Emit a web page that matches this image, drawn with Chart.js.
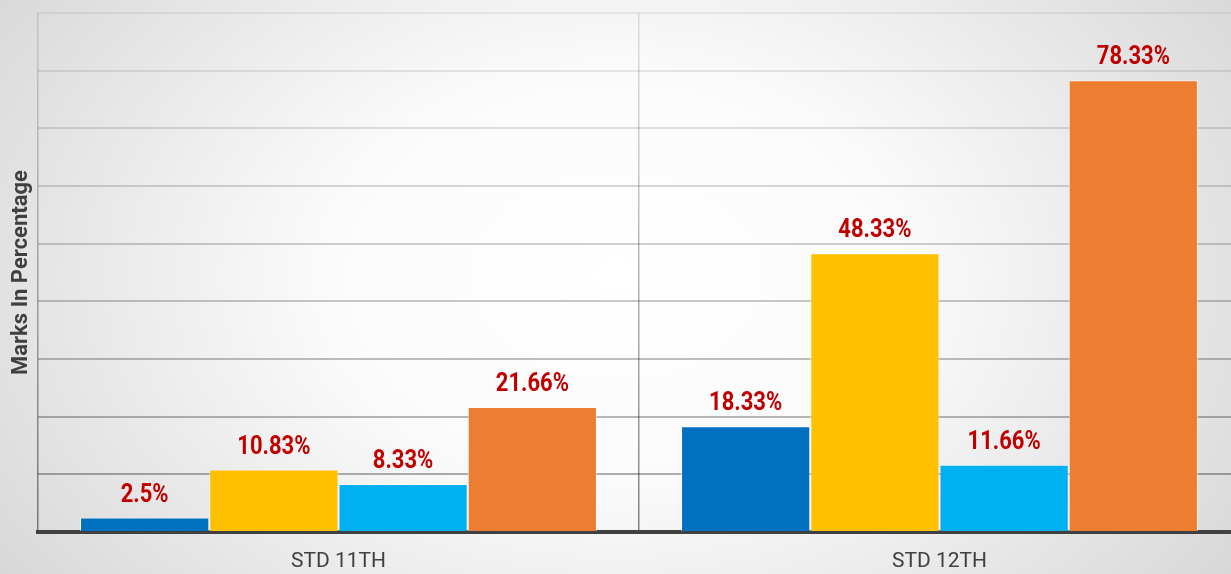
<!DOCTYPE html>
<html>
<head>
<meta charset="utf-8">
<script src="https://cdn.jsdelivr.net/npm/chart.js@4"></script>
<style>
  html, body { margin: 0; padding: 0; overflow: hidden; }
  body {
    width: 1231px; height: 574px;
    background: radial-gradient(ellipse 72% 110% at 50% 48%, #ffffff 0%, #fbfbfb 32%, #cdcdcd 100%);
  }
  #wrap { width: 1240px; height: 574px; }
</style>
</head>
<body>
<div id="wrap"><canvas id="myChart" width="1240" height="574"></canvas></div>
<script>
const categories = ['STD 11TH', 'STD 12TH'];
const series1 = [2.5, 18.33];
const series2 = [10.83, 48.33];
const series3 = [8.33, 11.66];
const series4 = [21.66, 78.33];
const seriesNames = ['Series 1', 'Series 2', 'Series 3', 'Series 4'];
const colors = ['#0070C0', '#FFC000', '#00B0F0', '#ED7D31'];

// value labels above each bar (slightly condensed Roboto)
const valueLabels = {
    id: 'valueLabels',
    afterDatasetsDraw(chart) {
        const c = chart.ctx;
        chart.data.datasets.forEach((ds, i) => {
            chart.getDatasetMeta(i).data.forEach((bar, j) => {
                c.save();
                c.translate(bar.x, bar.y - 16);
                c.scale(0.88, 1);
                c.font = 'bold 25px Roboto, sans-serif';
                c.fillStyle = '#C00000';
                c.textAlign = 'center';
                c.textBaseline = 'alphabetic';
                c.fillText(ds.data[j] + '%', 0, 0);
                c.restore();
            });
        });
    }
};

function xGridColor(context) {
    const chart = context.chart;
    const area = chart.chartArea;
    if (!area) return 'rgba(0,0,0,0.3)';
    const g = chart.ctx.createLinearGradient(0, area.top, 0, area.bottom);
    g.addColorStop(0, 'rgba(0,0,0,0.10)');
    g.addColorStop(1, 'rgba(0,0,0,0.48)');
    return g;
}

const ctx = document.getElementById('myChart');

new Chart(ctx, {
    type: 'bar',
    data: {
        labels: categories,
        datasets: [series1, series2, series3, series4].map((d, i) => ({
            label: seriesNames[i],
            data: d,
            backgroundColor: colors[i],
            borderColor: 'rgba(255,255,255,0.6)',
            borderWidth: 1,
            categoryPercentage: 0.86,
            barPercentage: 1
        }))
    },
    plugins: [valueLabels],
    options: {
        responsive: false,
        animation: false,
        layout: { padding: { top: 13, right: 0, bottom: 0, left: 0 } },
        plugins: {
            legend: { display: false },
            tooltip: { enabled: false }
        },
        scales: {
            x: {
                z: 1,
                afterFit: (scale) => { scale.height = 42; },
                grid: {
                    color: xGridColor,
                    lineWidth: 1.5,
                    drawTicks: false
                },
                border: { color: '#404040', width: 4 },
                ticks: {
                    color: '#404040',
                    font: { family: 'Roboto, sans-serif', size: 21 },
                    padding: 17
                }
            },
            y: {
                min: 0,
                max: 90,
                ticks: { display: false, stepSize: 10 },
                grid: {
                    drawTicks: false,
                    lineWidth: 2,
                    color: (c) => 'rgba(0,0,0,' + (0.06 + 0.28 * (1 - c.tick.value / 90)).toFixed(3) + ')'
                },
                border: { display: false },
                title: {
                    display: true,
                    text: 'Marks In Percentage',
                    color: '#404040',
                    font: { family: 'Roboto, sans-serif', size: 22, weight: 'bold' },
                    padding: { top: 8, bottom: 3.6 }
                }
            }
        }
    }
});
</script>
</body>
</html>
